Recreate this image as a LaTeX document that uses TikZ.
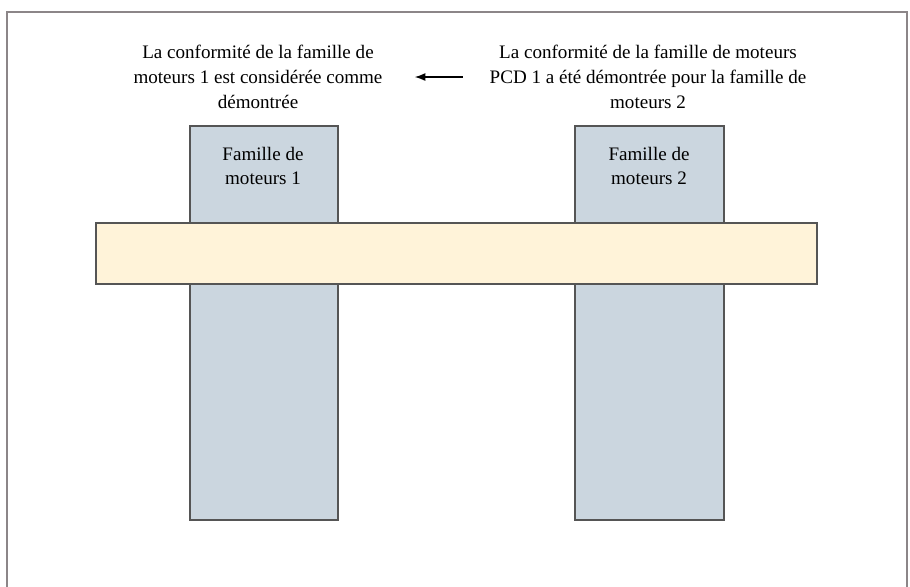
\documentclass[tikz,border=0pt]{standalone}
\usepackage{fontspec}
\setmainfont{Liberation Serif}
\usetikzlibrary{positioning,arrows.meta}

\definecolor{framegray}{HTML}{8C8688}
\definecolor{edgegray}{HTML}{555555}
\definecolor{familyblue}{HTML}{CBD6DF}
\definecolor{barcream}{HTML}{FFF3D9}

\tikzset{
  family/.style = {draw=edgegray, line width=1.4pt, fill=familyblue},
  band/.style = {draw=edgegray, line width=1.4pt, fill=barcream},
  note/.style = {align=center, inner sep=0pt, font=\fontsize{14.3}{18.8}\selectfont},
  label/.style = {align=center, inner sep=0pt, font=\fontsize{14.3}{18}\selectfont},
}

\begin{document}
\begin{tikzpicture}[x=0.75pt, y=-0.75pt]
 \useasboundingbox (0,0) rectangle (910,586);
 \draw[framegray, line width=1.6pt] (7,600) -- (7,12) -- (907,12) -- (907,600);

 % the two engine families
 \draw[family] (190,126) rectangle (338,520);
 \draw[family] (575,126) rectangle (724,520);
 \draw[band] (96,223) rectangle (817,284);

 \node[label] (fam1) at (263,166) {Famille de\\moteurs 1};
 \node[label] (fam2) at (649,166) {Famille de\\moteurs 2};

 \node[note] (left) at (258,77) {La conformité de la famille de\\moteurs 1 est considérée comme\\démontrée};
 \node[note] (right) at (648,77) {La conformité de la famille de moteurs\\PCD 1 a été démontrée pour la famille de\\moteurs 2};
 \draw[-{Latex[length=8pt,width=6pt]}, line width=1.1pt, shorten <=20pt, shorten >=24pt] (right.west) -- (left.east);

\end{tikzpicture}
\end{document}
